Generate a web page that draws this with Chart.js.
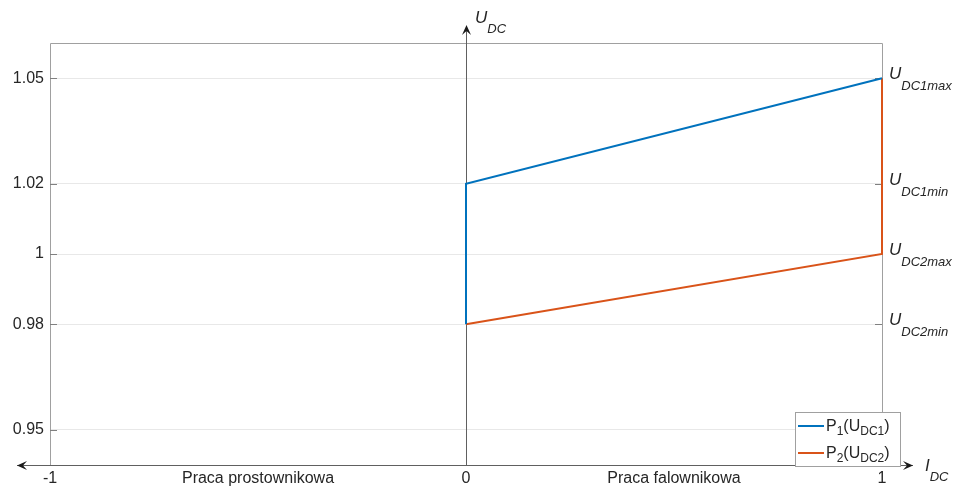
<!DOCTYPE html>
<html>
<head>
<meta charset="utf-8">
<script src="https://cdn.jsdelivr.net/npm/chart.js@4"></script>
<style>
  html, body { margin: 0; padding: 0; background: #fff; }
  #wrap { width: 957px; height: 489px; position: relative; }
</style>
</head>
<body>
<div id="wrap"><canvas id="chart"></canvas></div>
<script>
// --- data ---
const P1_I = [0, 0, 1];
const P1_U = [0.98, 1.02, 1.05];
const P2_I = [0, 1, 1];
const P2_U = [0.98, 1.00, 1.05];

const Y_TICKS = [0.95, 0.98, 1, 1.02, 1.05];
const X_TICKS = [-1, -0.5, 0, 0.5, 1];
const X_LABELS = ['-1', 'Praca prostownikowa', '0', 'Praca falownikowa', '1'];
const RIGHT_VALUES = [1.05, 1.02, 1, 0.98];
const RIGHT_SUBS = ['DC1max', 'DC1min', 'DC2max', 'DC2min'];
const SERIES_NAMES = [['P', '1', '(U', 'DC1', ')'], ['P', '2', '(U', 'DC2', ')']];

const BLUE = '#0072BD';
const ORANGE = '#D95319';
const FONT = '"Liberation Sans", Arial, sans-serif';

function arrow(ctx, x, y, dx, dy) {
    // filled arrow head pointing along (dx,dy)
    const len = 10, half = 4.5;
    const px = -dy, py = dx;
    ctx.beginPath();
    ctx.moveTo(x, y);
    ctx.lineTo(x - dx * len + px * half, y - dy * len + py * half);
    ctx.lineTo(x - dx * len * 0.6, y - dy * len * 0.6);
    ctx.lineTo(x - dx * len - px * half, y - dy * len - py * half);
    ctx.closePath();
    ctx.fill();
}

// text pieces alternate: [main, sub, main, sub, ...]
function richText(ctx, parts, x, y, size, italic, subDrop) {
    let cx = x;
    parts.forEach((t, i) => {
        const sub = i % 2 === 1;
        const fs = sub ? Math.round(size * 0.76) : size;
        ctx.font = (italic ? 'italic ' : '') + fs + 'px ' + FONT;
        ctx.fillText(t, cx, sub ? y + subDrop : y);
        cx += ctx.measureText(t).width;
    });
}

const framePlugin = {
    id: 'frame',
    beforeDatasetsDraw(chart) {
        const { ctx, chartArea: a, scales } = chart;
        const y = scales.y, x = scales.x;
        ctx.save();
        // box
        ctx.strokeStyle = '#a0a0a0';
        ctx.lineWidth = 1;
        ctx.beginPath();
        ctx.moveTo(a.left + 0.5, a.bottom);
        ctx.lineTo(a.left + 0.5, a.top + 0.5);
        ctx.lineTo(a.right + 0.5, a.top + 0.5);
        ctx.lineTo(a.right + 0.5, a.bottom);
        ctx.stroke();
        // inner ticks left & right
        ctx.strokeStyle = '#808080';
        Y_TICKS.forEach(v => {
            const py = Math.round(y.getPixelForValue(v)) + 0.5;
            ctx.beginPath();
            ctx.moveTo(a.left, py); ctx.lineTo(a.left + 7, py);
            ctx.moveTo(a.right, py); ctx.lineTo(a.right - 7, py);
            ctx.stroke();
        });
        // axes with arrows
        ctx.strokeStyle = '#606060';
        ctx.fillStyle = '#1a1a1a';
        const by = Math.round(a.bottom) + 0.5;
        ctx.beginPath();
        ctx.moveTo(17, by); ctx.lineTo(913, by);
        ctx.stroke();
        arrow(ctx, 17, by, -1, 0);
        arrow(ctx, 913, by, 1, 0);
        const cx = Math.round(x.getPixelForValue(0)) + 0.5;
        ctx.beginPath();
        ctx.moveTo(cx, by); ctx.lineTo(cx, 26);
        ctx.stroke();
        arrow(ctx, cx, 25, 0, -1);
        ctx.restore();
    },
    afterDraw(chart) {
        const { ctx, scales } = chart;
        const y = scales.y;
        ctx.save();
        ctx.fillStyle = '#262626';
        ctx.textBaseline = 'alphabetic';
        ctx.textAlign = 'left';
        // axis names
        richText(ctx, ['U', 'DC'], 475, 23, 17, true, 10);
        richText(ctx, ['I', 'DC'], 925, 471, 17, true, 10);
        // right-side level labels
        RIGHT_VALUES.forEach((v, i) => {
            const py = y.getPixelForValue(v);
            richText(ctx, ['U', RIGHT_SUBS[i]], 889, py + 1, 17, true, 11);
        });
        // legend
        const lx = 795, ly = 412, lw = 105, lh = 54;
        ctx.fillStyle = '#fff';
        ctx.fillRect(lx, ly, lw, lh);
        ctx.strokeStyle = '#a0a0a0';
        ctx.lineWidth = 1;
        ctx.strokeRect(lx + 0.5, ly + 0.5, lw, lh);
        chart.data.datasets.forEach((ds, i) => {
            const yy = ly + 14 + i * 27;
            ctx.strokeStyle = ds.borderColor;
            ctx.lineWidth = 2;
            ctx.beginPath();
            ctx.moveTo(lx + 3, yy); ctx.lineTo(lx + 29, yy);
            ctx.stroke();
            ctx.fillStyle = '#262626';
            richText(ctx, SERIES_NAMES[i], lx + 31, yy + 5, 16, false, 4);
        });
        ctx.restore();
    }
};

new Chart(document.getElementById('chart'), {
    type: 'line',
    data: {
        datasets: [
            {
                label: 'P1(UDC1)',
                data: P1_I.map((v, i) => ({ x: v, y: P1_U[i] })),
                borderColor: BLUE, borderWidth: 2, pointRadius: 0, tension: 0, fill: false, clip: false
            },
            {
                label: 'P2(UDC2)',
                data: P2_I.map((v, i) => ({ x: v, y: P2_U[i] })),
                borderColor: ORANGE, borderWidth: 2, pointRadius: 0, tension: 0, fill: false, clip: false
            }
        ]
    },
    options: {
        responsive: true, maintainAspectRatio: false, animation: false,
        layout: { padding: { left: 0, right: 75, top: 43, bottom: 0 } },
        plugins: { legend: { display: false }, tooltip: { enabled: false } },
        scales: {
            x: {
                type: 'linear', min: -1, max: 1,
                afterBuildTicks: s => { s.ticks = X_TICKS.map(v => ({ value: v })); },
                afterFit: s => { s.height = 24; },
                grid: { display: false, drawTicks: false },
                border: { display: false },
                ticks: {
                    autoSkip: false, maxRotation: 0, padding: 4,
                    color: '#262626', font: { family: FONT, size: 16 },
                    callback: (v, i) => X_LABELS[i]
                }
            },
            y: {
                type: 'linear', min: 0.94, max: 1.06,
                afterBuildTicks: s => { s.ticks = Y_TICKS.map(v => ({ value: v })); },
                afterFit: s => { s.width = 50; },
                grid: { color: '#e8e8e8', drawTicks: false },
                border: { display: false },
                ticks: {
                    padding: 6,
                    color: '#262626', font: { family: FONT, size: 16 },
                    callback: v => String(v)
                }
            }
        }
    },
    plugins: [framePlugin]
});
</script>
</body>
</html>
